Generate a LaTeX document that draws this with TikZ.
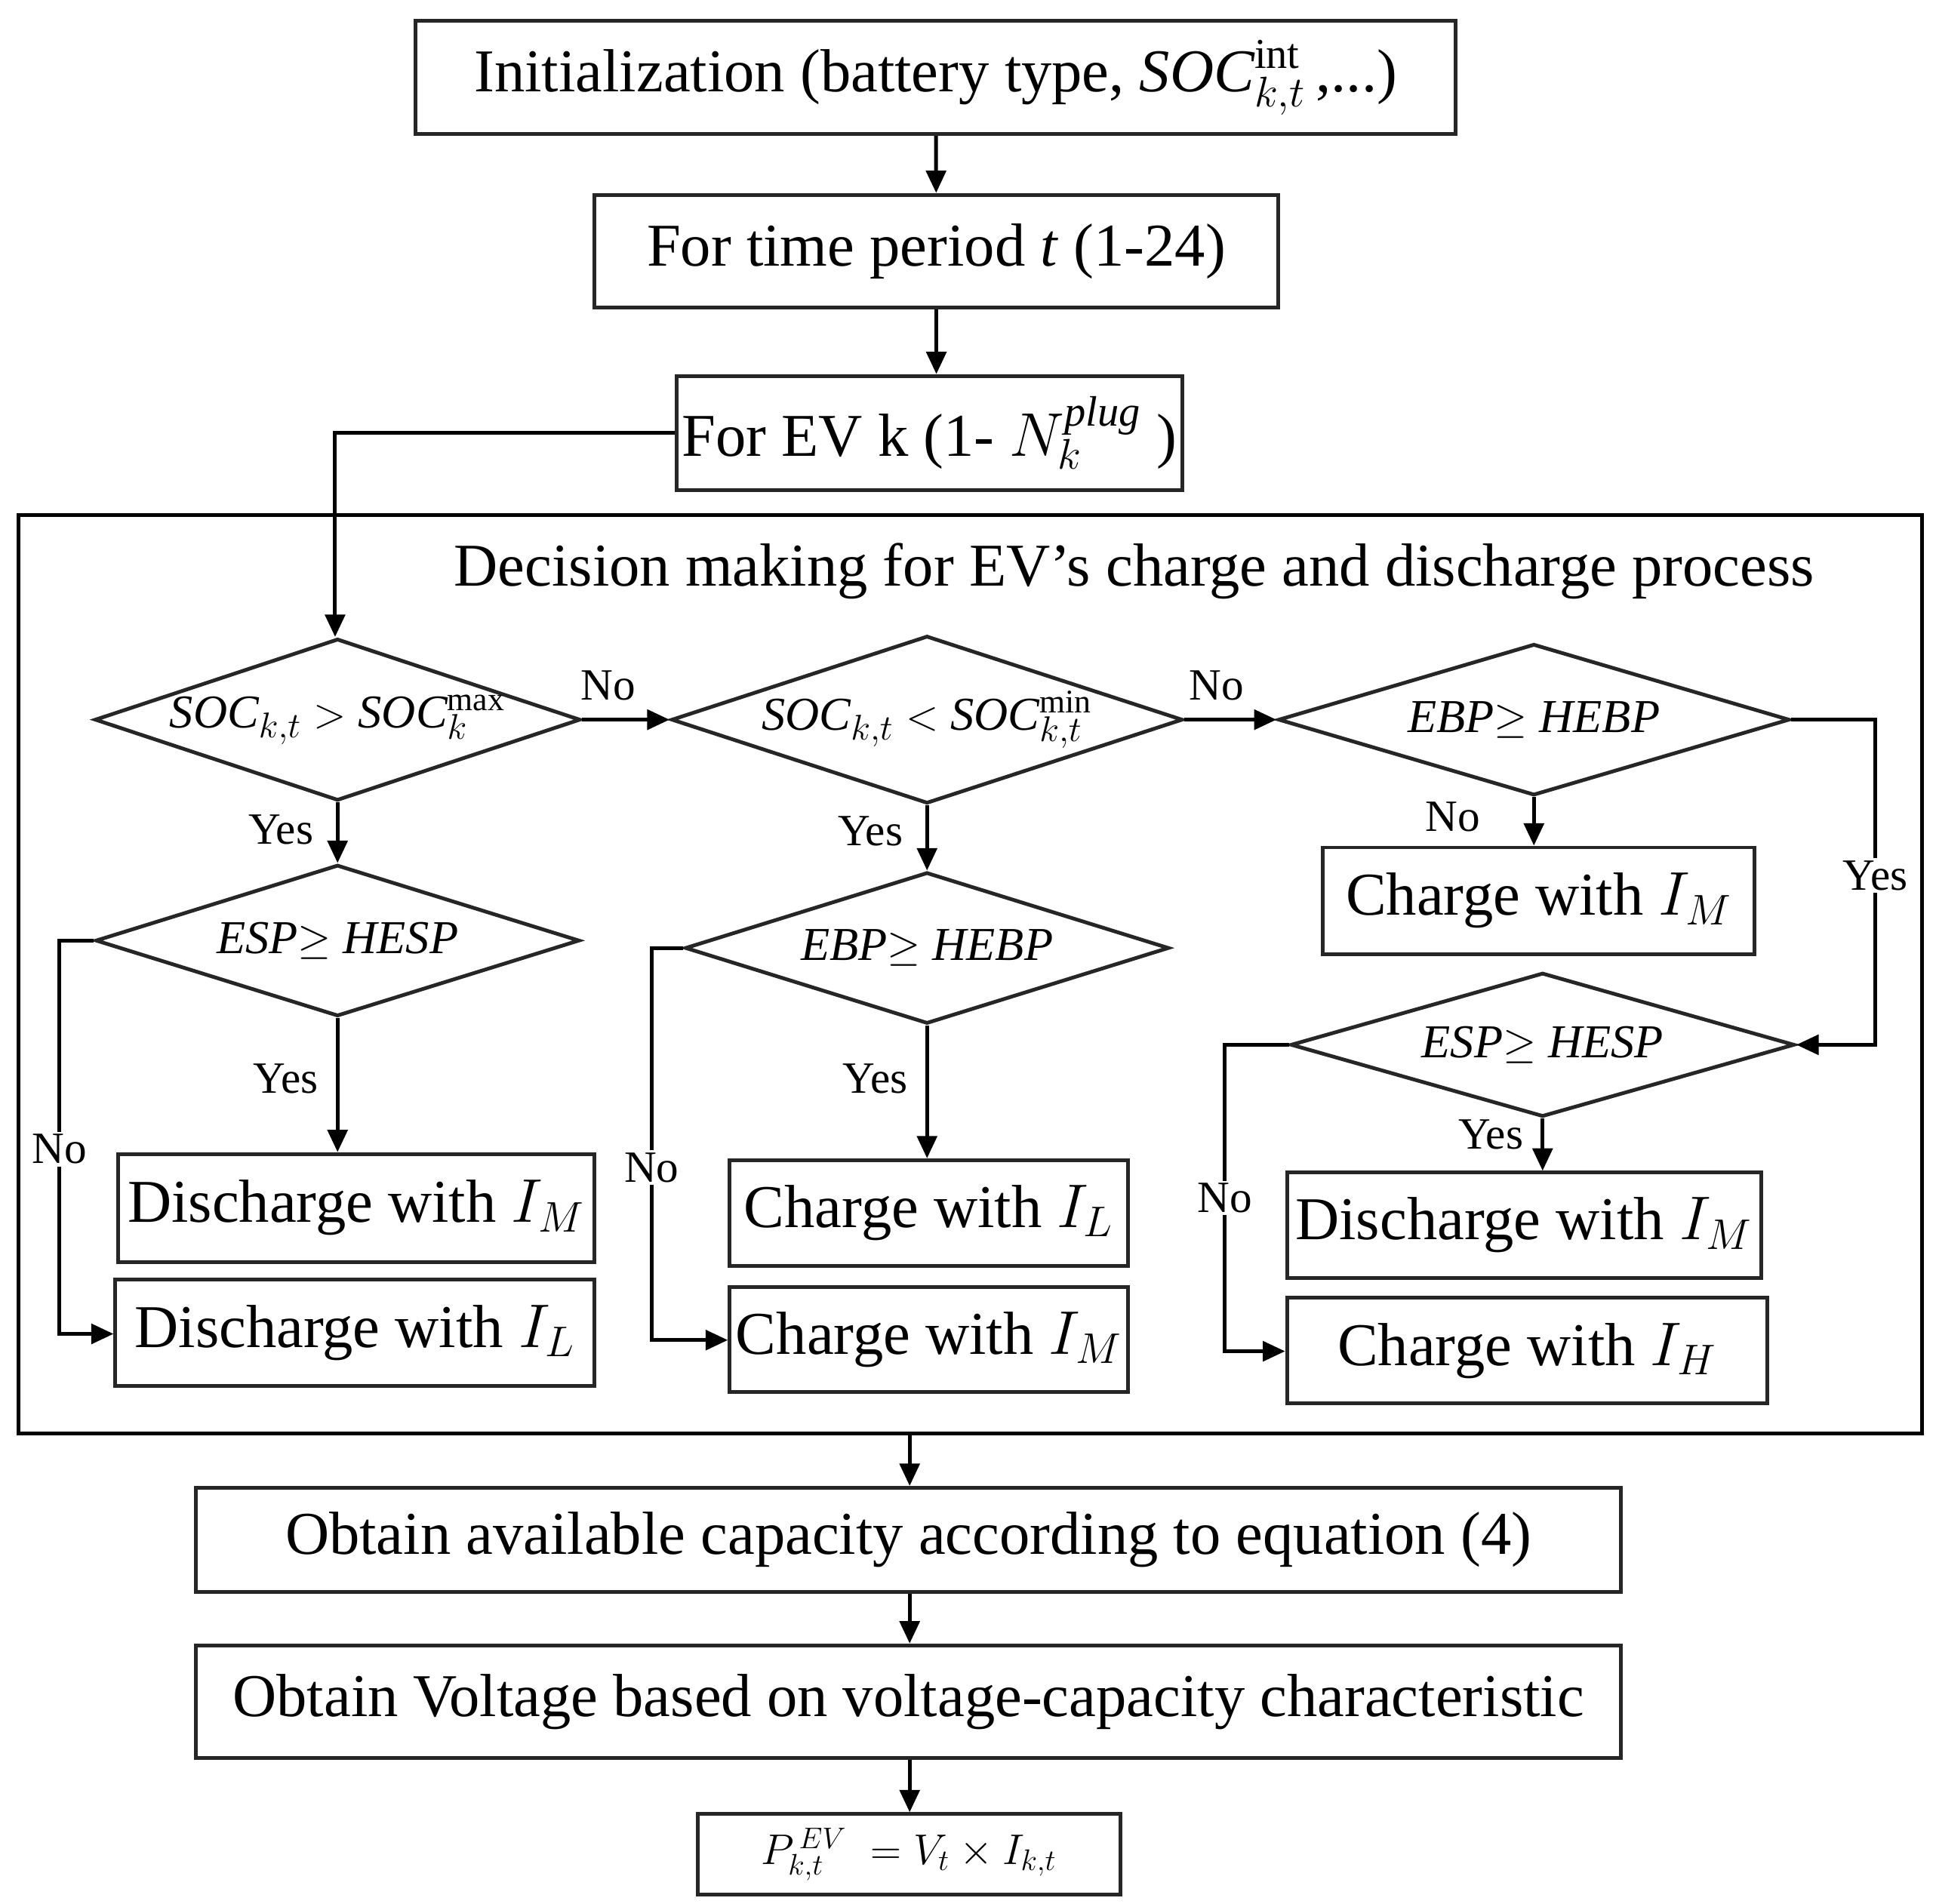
\documentclass[tikz,border=0pt]{standalone}
\usepackage{fontspec}
\setmainfont{Liberation Serif}
\usetikzlibrary{shapes.geometric,arrows.meta}
\newcommand{\mi}[1]{\textit{#1}}
\begin{document}
\begin{tikzpicture}[x=0.5pt,y=-0.5pt,
  box/.style={draw=black!85,line width=1.5pt,inner sep=0pt,font=\fontsize{24.5}{28}\selectfont},
  dia/.style={draw=black!85,line width=1.5pt,diamond,inner sep=0pt,aspect=3,font=\fontsize{19}{22}\selectfont},
  ar/.style={line width=1.5pt,-{Triangle[length=9pt,width=8pt]}},
  lbl/.style={font=\fontsize{18}{20}\selectfont,inner sep=1pt},
  lblw/.style={lbl,fill=white}]
\useasboundingbox (0,0) rectangle (1560,1534);
\newcommand{\bx}[6]{\node[box,minimum width=#4*0.5pt-#2*0.5pt,minimum height=#5*0.5pt-#3*0.5pt] (#1) at ({(#2+#4)/2},{(#3+#5)/2}) {#6};}
\bx{init}{335}{17}{1173}{108}{Initialization (battery type, $\mathit{SOC}^{\mathrm{int}}_{k,t}\,$,...)}
\bx{time}{479}{157}{1030}{248}{For time period \mi{t} (1-24)}
\bx{ev}{545}{303}{953}{395}{For EV k (1- $N_k^{\mathit{plug}}$ )}
\node[draw=black,line width=1.5pt,minimum width=767pt,minimum height=370pt,inner sep=0pt] (frame) at (782,785) {};
\node[font=\fontsize{24.5}{28}\selectfont] (title) at (914,460) {Decision making for EV’s charge and discharge process};
\node[dia,minimum width=195pt,minimum height=63pt] (d1) at (272,580) {$\mathit{SOC}_{k,t}>\mathit{SOC}_k^{\max}$};
\node[dia,minimum width=206pt,minimum height=67pt] (d2) at (747,580) {$\mathit{SOC}_{k,t}<\mathit{SOC}_{k,t}^{\min}$};
\node[dia,minimum width=206pt,minimum height=61pt] (d3) at (1236,580) {\mi{EBP}$\geq$ \mi{HEBP}};
\node[dia,minimum width=195pt,minimum height=61pt] (d4) at (272,758) {\mi{ESP}$\geq$ \mi{HESP}};
\node[dia,minimum width=195pt,minimum height=61pt] (d5) at (747,764) {\mi{EBP}$\geq$ \mi{HEBP}};
\node[dia,minimum width=203pt,minimum height=58pt] (d6) at (1243,842) {\mi{ESP}$\geq$ \mi{HESP}};
\bx{c3}{1066}{683}{1414}{769}{Charge with $I_M$}
\bx{b1}{95}{930}{479}{1017}{Discharge with $I_M$}
\bx{b2}{93}{1031}{479}{1117}{Discharge with $I_L$}
\bx{b3}{588}{935}{909}{1020}{Charge with $I_L$}
\bx{b4}{588}{1037}{909}{1122}{Charge with $I_M$}
\bx{b5}{1037}{945}{1419}{1030}{Discharge with $I_M$}
\bx{b6}{1037}{1046}{1424}{1131}{Charge with $I_H$}
\bx{cap}{158}{1199}{1306}{1283}{Obtain available capacity according to equation (4)}
\bx{volt}{158}{1326}{1306}{1417}{Obtain Voltage based on voltage-capacity characteristic}
\node[box,font=\fontsize{18}{22}\selectfont,minimum width=170.5pt,minimum height=32.5pt] (pev) at (732.5,1494.5) {$P_{k,t}^{\,EV}\;=V_t\times I_{k,t}$};
\coordinate (c1) at (270,349);
\coordinate (c2) at (1511,580);
\coordinate (c3a) at (1511,842);
\coordinate (c4) at (48,758); \coordinate (c4b) at (48,1075);
\coordinate (c5) at (525,764); \coordinate (c5b) at (525,1080);
\coordinate (c6) at (987,842); \coordinate (c6b) at (987,1089);
\draw[ar] (init) -- (time);
\draw[ar] (time) -- (ev.north -| time);
\draw[ar] (ev.west) -- (c1) -- (d1.north -| c1);
\draw[ar] (d1.east) -- node[lbl,above=6pt,pos=0.3]{No} (d2.west);
\draw[ar] (d2.east) -- node[lbl,above=6pt,pos=0.35]{No} (d3.west);
\draw[ar] (d3.east) -- (c2) -- node[lblw,pos=0.48]{Yes} (c3a) -- (d6.east);
\draw[ar] (d3.south) -- node[lbl,left=20pt,pos=0.4]{No} (c3.north -| d3.south);
\draw[ar] (d1.south) -- node[lbl,left=8pt,pos=0.45]{Yes} (d4.north);
\draw[ar] (d4.south) -- node[lbl,left=6pt,pos=0.45]{Yes} (b1.north -| d4.south);
\draw[ar] (d4.west) -- (c4) -- node[lblw,pos=0.53]{No} (c4b) -- (b2.west |- c4b);
\draw[ar] (d2.south) -- node[lbl,left=8pt,pos=0.4]{Yes} (d5.north);
\draw[ar] (d5.south) -- node[lbl,left=6pt,pos=0.4]{Yes} (b3.north -| d5.south);
\draw[ar] (d5.west) -- (c5) -- node[lblw,pos=0.56]{No} (c5b) -- (b4.west |- c5b);
\draw[ar] (d6.south) -- node[lbl,left=6pt,pos=0.3]{Yes} (b5.north -| d6.south);
\draw[ar] (d6.west) -- (c6) -- node[lblw,pos=0.5]{No} (c6b) -- (b6.west |- c6b);
\draw[ar] (frame.south -| 733,0) -- (cap.north -| 733,0);
\draw[ar] (cap.south -| 733,0) -- (volt.north -| 733,0);
\draw[ar] (volt.south -| 733,0) -- (pev.north -| 733,0);
\end{tikzpicture}
\end{document}
